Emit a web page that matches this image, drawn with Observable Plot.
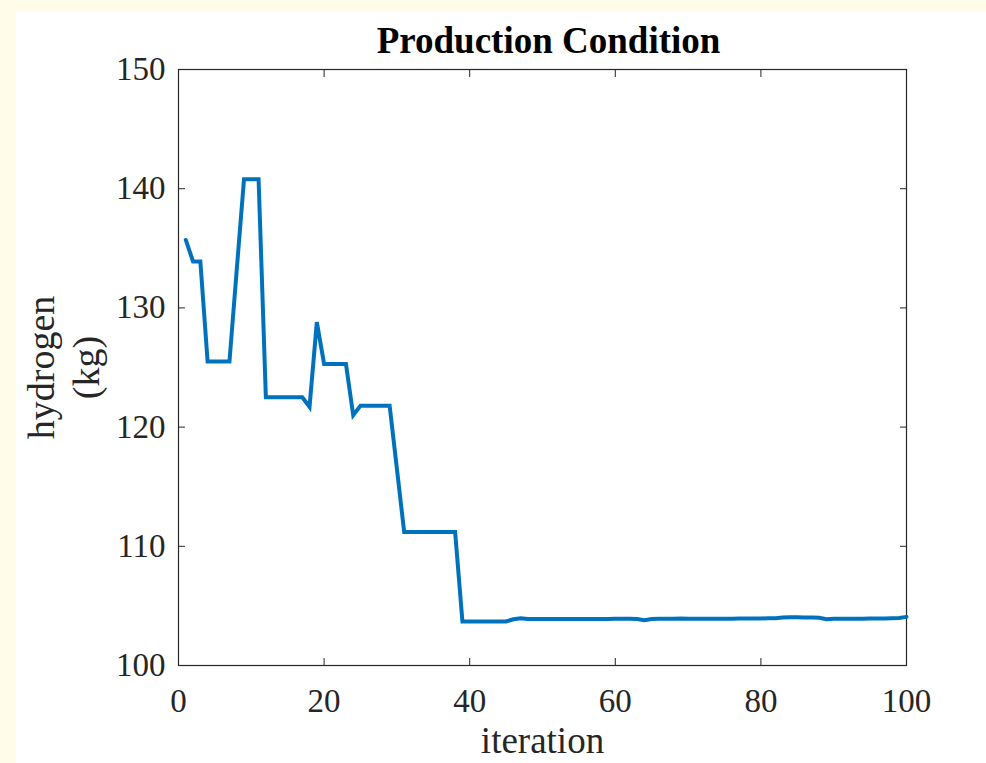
<!DOCTYPE html>
<html>
<head>
<meta charset="utf-8">
<script src="https://cdn.jsdelivr.net/npm/d3@7"></script>
<script src="https://cdn.jsdelivr.net/npm/@observablehq/plot@0.6"></script>
<style>
  html, body { margin: 0; padding: 0; background: #fffde9; width: 986px; height: 763px; overflow: hidden; }
  #chart { position: absolute; left: 16px; top: 12px; width: 970px; height: 751px; background: #ffffff; }
  #chart svg { background: #ffffff; }
</style>
</head>
<body>
<div id="chart"></div>
<script>
const title = "Production Condition";
const xLabel = "iteration";
const yLabel = "hydrogen\n(kg)";
const xTicks = [0, 20, 40, 60, 80, 100];
const yTicks = [100, 110, 120, 130, 140, 150];

const iteration = [
  1, 2, 3, 4, 5, 6, 7, 8, 9, 10,
  11, 12, 13, 14, 15, 16, 17, 18, 19, 20,
  21, 22, 23, 24, 25, 26, 27, 28, 29, 30,
  31, 32, 33, 34, 35, 36, 37, 38, 39, 40,
  41, 42, 43, 44, 45, 46, 47, 48, 49, 50,
  51, 52, 53, 54, 55, 56, 57, 58, 59, 60,
  61, 62, 63, 64, 65, 66, 67, 68, 69, 70,
  71, 72, 73, 74, 75, 76, 77, 78, 79, 80,
  81, 82, 83, 84, 85, 86, 87, 88, 89, 90,
  91, 92, 93, 94, 95, 96, 97, 98, 99, 100
];
const hydrogen = [
  135.7, 133.9, 133.9, 125.5, 125.5, 125.5, 125.5, 133.2, 140.8, 140.8,
  140.8, 122.5, 122.5, 122.5, 122.5, 122.5, 122.5, 121.7, 128.8, 125.3,
  125.3, 125.3, 125.3, 121.0, 121.8, 121.8, 121.8, 121.8, 121.8, 116.5,
  111.2, 111.2, 111.2, 111.2, 111.2, 111.2, 111.2, 111.2, 103.7, 103.7,
  103.7, 103.7, 103.7, 103.7, 103.7, 103.88, 103.97, 103.9, 103.9, 103.9,
  103.9, 103.9, 103.9, 103.9, 103.9, 103.9, 103.9, 103.9, 103.9, 103.92,
  103.92, 103.92, 103.9, 103.8, 103.9, 103.92, 103.92, 103.93, 103.95, 103.93,
  103.93, 103.93, 103.93, 103.93, 103.93, 103.93, 103.95, 103.95, 103.95, 103.95,
  103.97, 103.97, 104.03, 104.05, 104.05, 104.03, 104.03, 104.0, 103.88, 103.92,
  103.92, 103.93, 103.93, 103.92, 103.95, 103.95, 103.95, 103.97, 103.98, 104.08
];

const data = iteration.map((it, i) => ({iteration: it, hydrogen: hydrogen[i]}));

const ink = "#262626";
const font = "'Liberation Serif', 'Times New Roman', serif";

const chart = Plot.plot({
  width: 970,
  height: 751,
  marginLeft: 162,
  marginRight: 80,
  marginTop: 57,
  marginBottom: 98,
  style: {fontFamily: font, color: ink, background: "#ffffff"},
  x: {domain: [0, 100]},
  y: {domain: [100, 150]},
  marks: [
    Plot.frame({stroke: ink, strokeWidth: 1.2}),
    // inward ticks (MATLAB style box), no text
    Plot.axisX(xTicks, {anchor: "bottom", tickSize: -7, fill: "none", label: null, stroke: ink}),
    Plot.axisX(xTicks, {anchor: "top", tickSize: -7, fill: "none", label: null, stroke: ink}),
    Plot.axisY(yTicks, {anchor: "left", tickSize: -7, fill: "none", label: null, stroke: ink}),
    Plot.axisY(yTicks, {anchor: "right", tickSize: -7, fill: "none", label: null, stroke: ink}),
    // tick labels
    Plot.axisX(xTicks, {anchor: "bottom", tickSize: 0, tickPadding: 23, fontSize: 33, label: null, fill: ink}),
    Plot.axisY(yTicks, {anchor: "left", tickSize: 0, tickPadding: 13, fontSize: 33, label: null, fill: ink}),
    Plot.line(data, {x: "iteration", y: "hydrogen", stroke: "#0072BD", strokeWidth: 4, strokeLinejoin: "miter", strokeMiterlimit: 4}),
    Plot.text([title], {frameAnchor: "top", lineAnchor: "middle", dy: -28, dx: 6, text: d => d, fontSize: 37, fontWeight: "bold", fill: "#000000"}),
    Plot.text([xLabel], {frameAnchor: "bottom", lineAnchor: "middle", dy: 76, text: d => d, fontSize: 37, fill: ink}),
    Plot.text([yLabel], {frameAnchor: "left", textAnchor: "middle", lineAnchor: "middle", dx: -116, rotate: -90, text: d => d, fontSize: 38, lineHeight: 1.18, fill: ink})
  ]
});
document.getElementById("chart").appendChild(chart);
</script>
</body>
</html>
